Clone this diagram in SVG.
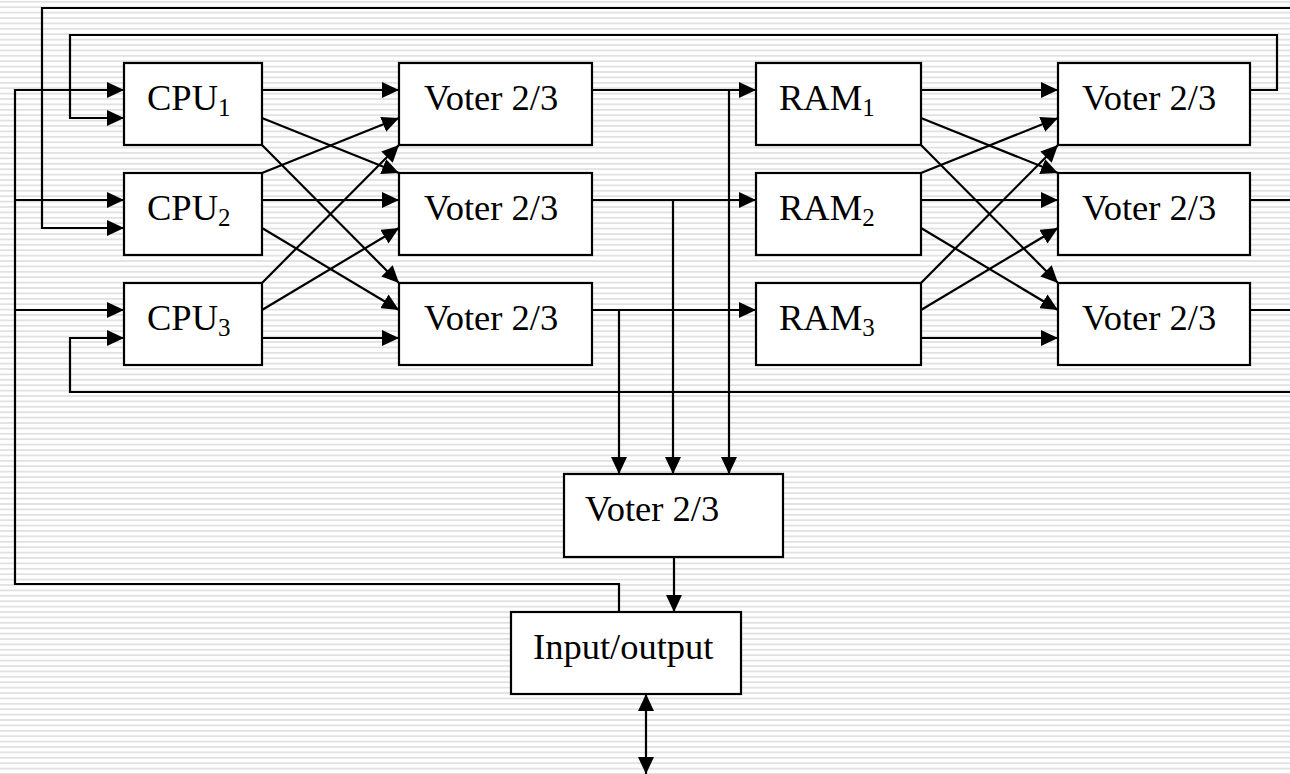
<svg xmlns="http://www.w3.org/2000/svg" width="1290" height="774" viewBox="0 0 1290 774">
  <style>
    .box { fill: #ffffff; stroke: #000000; stroke-width: 2.2; }
    .lbl { font-family: "Liberation Serif", "Times New Roman", serif; font-size: 36.5px; fill: #000000; }
    .sub { font-size: 25px; }
    .wire { fill: none; stroke: #000000; stroke-width: 2.2; }
    .arr { marker-end: url(#head); }
  </style>
  <defs>
    <pattern id="stripes" x="0" y="0" width="20" height="5.4" patternUnits="userSpaceOnUse">
      <rect x="0" y="0" width="20" height="5.4" fill="#ffffff"/>
      <rect x="0" y="1" width="20" height="1.6" fill="#dedede"/>
    </pattern>
    <marker id="head" markerUnits="userSpaceOnUse" markerWidth="17" markerHeight="16" refX="17" refY="8" orient="auto-start-reverse">
      <path d="M0,0 L17,8 L0,16 Z" fill="#000000"/>
    </marker>
  </defs>

  <!-- striped backdrop -->
  <rect x="0" y="0" width="1290" height="774" fill="url(#stripes)"/>

  <!-- connectors -->
  <g id="connectors">
    <!-- CPU stage to first voter bank -->
    <path class="wire arr" d="M262,90 L399,90"/>
    <path class="wire arr" d="M262,118 L399,173"/>
    <path class="wire arr" d="M262,145 L399,283"/>
    <path class="wire arr" d="M262,173 L399,118"/>
    <path class="wire arr" d="M262,200 L399,200"/>
    <path class="wire arr" d="M262,228 L399,310"/>
    <path class="wire arr" d="M262,283 L399,145"/>
    <path class="wire arr" d="M262,310 L399,228"/>
    <path class="wire arr" d="M262,338 L399,338"/>

    <!-- RAM stage to second voter bank -->
    <path class="wire arr" d="M921,90 L1058,90"/>
    <path class="wire arr" d="M921,118 L1058,173"/>
    <path class="wire arr" d="M921,145 L1058,283"/>
    <path class="wire arr" d="M921,173 L1058,118"/>
    <path class="wire arr" d="M921,200 L1058,200"/>
    <path class="wire arr" d="M921,228 L1058,310"/>
    <path class="wire arr" d="M921,283 L1058,145"/>
    <path class="wire arr" d="M921,310 L1058,228"/>
    <path class="wire arr" d="M921,338 L1058,338"/>

    <!-- voters to RAM -->
    <path class="wire arr" d="M592,90 L756,90"/>
    <path class="wire arr" d="M592,200 L756,200"/>
    <path class="wire arr" d="M592,310 L756,310"/>

    <!-- taps down to the output voter -->
    <path class="wire arr" d="M729,90 L729,474"/>
    <path class="wire arr" d="M673,200 L673,474"/>
    <path class="wire arr" d="M619,310 L619,474"/>

    <!-- output voter to I/O, and external port -->
    <path class="wire arr" d="M674,557 L674,612"/>
    <path class="wire arr" d="M646,694 L646,774" marker-start="url(#head)"/>

    <!-- I/O feedback into the CPUs -->
    <path class="wire arr" d="M619,612 L619,584 L15,584 L15,90 L124,90"/>
    <path class="wire arr" d="M15,200 L124,200"/>
    <path class="wire arr" d="M15,310 L124,310"/>

    <!-- memory voter feedback loops -->
    <path class="wire arr" d="M1250,90 L1277,90 L1277,35 L70,35 L70,118 L124,118"/>
    <path class="wire" d="M1250,200 L1290,200"/>
    <path class="wire arr" d="M1290,8 L42,8 L42,228 L124,228"/>
    <path class="wire" d="M1250,310 L1290,310"/>
    <path class="wire arr" d="M1290,392 L70,392 L70,338 L124,338"/>
  </g>

  <!-- processors -->
  <g id="cpu1">
    <rect class="box" x="124" y="63" width="138" height="82"/>
    <text class="lbl" x="147" y="110">CPU<tspan class="sub" dy="6">1</tspan></text>
  </g>
  <g id="cpu2">
    <rect class="box" x="124" y="173" width="138" height="82"/>
    <text class="lbl" x="147" y="220">CPU<tspan class="sub" dy="6">2</tspan></text>
  </g>
  <g id="cpu3">
    <rect class="box" x="124" y="283" width="138" height="82"/>
    <text class="lbl" x="147" y="330">CPU<tspan class="sub" dy="6">3</tspan></text>
  </g>

  <!-- first voter bank -->
  <g id="voter-a1">
    <rect class="box" x="399" y="63" width="193" height="82"/>
    <text class="lbl" x="424" y="110">Voter 2/3</text>
  </g>
  <g id="voter-a2">
    <rect class="box" x="399" y="173" width="193" height="82"/>
    <text class="lbl" x="424" y="220">Voter 2/3</text>
  </g>
  <g id="voter-a3">
    <rect class="box" x="399" y="283" width="193" height="82"/>
    <text class="lbl" x="424" y="330">Voter 2/3</text>
  </g>

  <!-- memories -->
  <g id="ram1">
    <rect class="box" x="756" y="63" width="165" height="82"/>
    <text class="lbl" x="779" y="110">RAM<tspan class="sub" dy="6">1</tspan></text>
  </g>
  <g id="ram2">
    <rect class="box" x="756" y="173" width="165" height="82"/>
    <text class="lbl" x="779" y="220">RAM<tspan class="sub" dy="6">2</tspan></text>
  </g>
  <g id="ram3">
    <rect class="box" x="756" y="283" width="165" height="82"/>
    <text class="lbl" x="779" y="330">RAM<tspan class="sub" dy="6">3</tspan></text>
  </g>

  <!-- second voter bank -->
  <g id="voter-b1">
    <rect class="box" x="1058" y="63" width="192" height="82"/>
    <text class="lbl" x="1082" y="110">Voter 2/3</text>
  </g>
  <g id="voter-b2">
    <rect class="box" x="1058" y="173" width="192" height="82"/>
    <text class="lbl" x="1082" y="220">Voter 2/3</text>
  </g>
  <g id="voter-b3">
    <rect class="box" x="1058" y="283" width="192" height="82"/>
    <text class="lbl" x="1082" y="330">Voter 2/3</text>
  </g>

  <!-- output voter -->
  <g id="voter-out">
    <rect class="box" x="564" y="474" width="219" height="83"/>
    <text class="lbl" x="585" y="521">Voter 2/3</text>
  </g>

  <!-- input/output unit -->
  <g id="io">
    <rect class="box" x="511" y="612" width="230" height="82"/>
    <text class="lbl" x="533" y="659">Input/output</text>
  </g>
</svg>
